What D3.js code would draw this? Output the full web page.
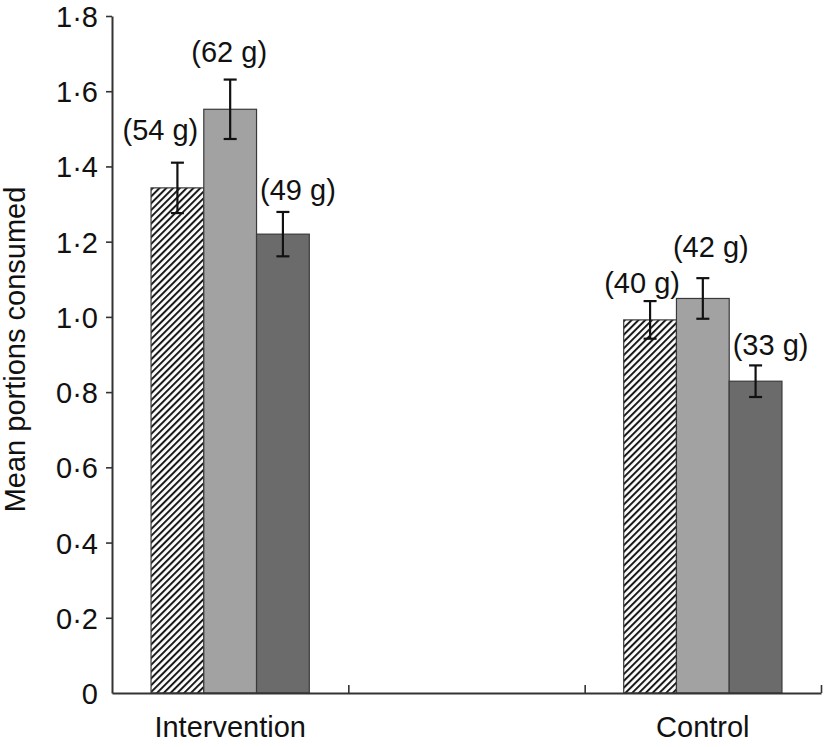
<!DOCTYPE html>
<html>
<head>
<meta charset="utf-8">
<script src="https://cdn.jsdelivr.net/npm/d3@7"></script>
<style>
  html, body { margin: 0; padding: 0; background: #fff; }
  text { font-family: "Liberation Sans", Arial, Helvetica, sans-serif; fill: #111; }
</style>
</head>
<body>
<svg id="chart" width="825" height="747"></svg>
<script>
// ---- data ----
const slots = ["Intervention", "", "Control"];          // x slots (middle one empty)
const groups = ["Intervention", "Control"];
const series = ["hatched", "light", "dark"];
const means = {
  Intervention: [1.343, 1.552, 1.220],
  Control:      [0.992, 1.049, 0.829]
};
const errors = {
  Intervention: [0.067, 0.079, 0.059],
  Control:      [0.050, 0.054, 0.042]
};
const gramLabels = {
  Intervention: ["(54 g)", "(62 g)", "(49 g)"],
  Control:      ["(40 g)", "(42 g)", "(33 g)"]
};
const yTicks = [0, 0.2, 0.4, 0.6, 0.8, 1.0, 1.2, 1.4, 1.6, 1.8];
const yTitle = "Mean portions consumed";

// ---- layout / style ----
const svg = d3.select("#chart");
const mLeft = 112, mRight = 821, mTop = 16, mBottom = 693;
const fs = 29;
const fills = { light: "#a2a2a2", dark: "#6b6b6b" };
// label nudges (px): [dx from bar centre, gap above error-bar top]
const labelNudge = {
  Intervention: [[-17, 23], [-1, 18], [15, 12]],
  Control:      [[-8, 8], [8, 21], [15, 10]]
};

const y = d3.scaleLinear().domain([0, 1.8]).range([mBottom, mTop]);
const x0 = d3.scaleBand().domain(slots).range([mLeft, mRight]).paddingInner(0).paddingOuter(0);
const x1 = d3.scaleBand().domain(series).range([0, x0.bandwidth()]).paddingInner(0).paddingOuter(0.74);

// hatch pattern
const defs = svg.append("defs");
const pw = 4.8;
const pat = defs.append("pattern")
  .attr("id", "hatch").attr("patternUnits", "userSpaceOnUse")
  .attr("width", pw).attr("height", pw)
  .attr("patternTransform", "rotate(45)");
pat.append("rect").attr("width", pw).attr("height", pw).attr("fill", "#fff");
pat.append("line").attr("x1", 1).attr("y1", 0).attr("x2", 1).attr("y2", pw)
  .attr("stroke", "#1a1a1a").attr("stroke-width", 2);

// bars
groups.forEach(g => {
  const gx = x0(g);
  series.forEach((s, i) => {
    const v = means[g][i];
    svg.append("rect")
      .attr("x", gx + x1(s))
      .attr("y", y(v))
      .attr("width", x1.bandwidth())
      .attr("height", y(0) - y(v))
      .attr("fill", s === "hatched" ? "url(#hatch)" : fills[s])
      .attr("stroke", "#3a3a3a").attr("stroke-width", 1.2);
  });
});

// error bars
groups.forEach(g => {
  const gx = x0(g);
  series.forEach((s, i) => {
    const v = means[g][i], e = errors[g][i];
    const cx = gx + x1(s) + x1.bandwidth() / 2;
    const eg = svg.append("g").attr("stroke", "#111").attr("stroke-width", 2.2);
    eg.append("line").attr("x1", cx).attr("x2", cx).attr("y1", y(v - e)).attr("y2", y(v + e));
    eg.append("line").attr("x1", cx - 6.5).attr("x2", cx + 6.5).attr("y1", y(v - e)).attr("y2", y(v - e));
    eg.append("line").attr("x1", cx - 6.5).attr("x2", cx + 6.5).attr("y1", y(v + e)).attr("y2", y(v + e));
  });
});

// gram labels
groups.forEach(g => {
  const gx = x0(g);
  series.forEach((s, i) => {
    const v = means[g][i], e = errors[g][i];
    const cx = gx + x1(s) + x1.bandwidth() / 2;
    const [dx, gap] = labelNudge[g][i];
    svg.append("text")
      .attr("x", cx + dx).attr("y", y(v + e) - gap)
      .attr("text-anchor", "middle")
      .attr("font-size", fs)
      .text(gramLabels[g][i]);
  });
});

// y axis
const fmt = d => d === 0 ? "0" : d.toFixed(1).replace(".", "\u00B7");
const yAxis = svg.append("g").attr("transform", `translate(${mLeft},0)`)
  .call(d3.axisLeft(y).tickValues(yTicks).tickFormat(fmt).tickSize(6).tickSizeOuter(0).tickPadding(8));
yAxis.select(".domain").attr("stroke", "#333").attr("stroke-width", 2);
yAxis.selectAll(".tick line").attr("stroke", "#333").attr("stroke-width", 1.6)
  .filter(d => d === 0).remove();
yAxis.selectAll(".tick text").attr("font-size", fs)
  .attr("font-family", "'Liberation Sans', Arial, sans-serif").attr("fill", "#111")
  .attr("dy", "0.36em");

// x axis (ticks at slot boundaries)
const xb = d3.scaleLinear().domain([0, slots.length]).range([mLeft, mRight]);
const xAxis = svg.append("g").attr("transform", `translate(0,${mBottom})`)
  .call(d3.axisBottom(xb).tickValues([1, 2, 3]).tickFormat("").tickSize(-8).tickSizeOuter(0));
xAxis.select(".domain").attr("stroke", "#333").attr("stroke-width", 2);
xAxis.selectAll(".tick line").attr("stroke", "#333").attr("stroke-width", 1.6);

// category labels
groups.forEach(g => {
  svg.append("text")
    .attr("x", x0(g) + x0.bandwidth() / 2)
    .attr("y", 737)
    .attr("text-anchor", "middle")
    .attr("font-size", fs)
    .text(g);
});

// y title
svg.append("text")
  .attr("transform", `translate(25,${(mTop + mBottom) / 2 - 5}) rotate(-90)`)
  .attr("text-anchor", "middle")
  .attr("font-size", fs)
  .text(yTitle);
</script>
</body>
</html>
